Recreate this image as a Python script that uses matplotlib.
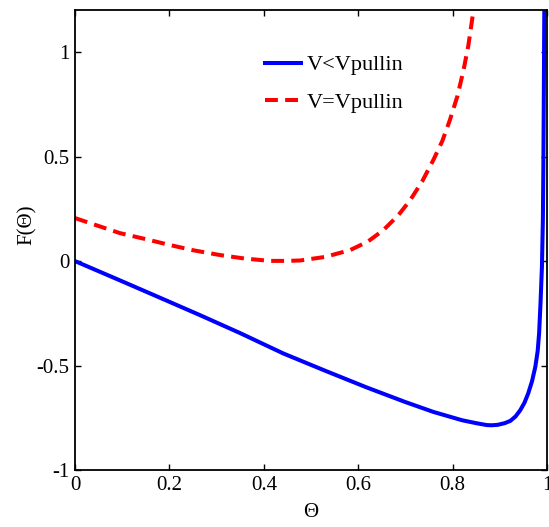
import matplotlib
matplotlib.use('Agg')
import matplotlib.pyplot as plt

plt.rcParams['font.family'] = ['Liberation Serif', 'DejaVu Serif']
plt.rcParams['axes.unicode_minus'] = False

# V < Vpullin (solid blue)
theta_lo = [0.0, 0.1, 0.2, 0.265, 0.35, 0.441, 0.53, 0.618, 0.7, 0.759, 0.82,
            0.85, 0.872, 0.882, 0.895, 0.91, 0.922, 0.933, 0.943, 0.952, 0.96,
            0.968, 0.975, 0.98, 0.983, 0.986, 0.989, 0.991, 0.992, 0.993,
            0.994, 0.996]
f_lo = [0.0, -0.097, -0.195, -0.259, -0.345, -0.442, -0.525, -0.605, -0.675,
        -0.722, -0.762, -0.776, -0.785, -0.786, -0.784, -0.776, -0.765, -0.744,
        -0.714, -0.678, -0.633, -0.575, -0.506, -0.43, -0.346, -0.2, -0.027,
        0.2, 0.452, 0.8, 1.2, 1.6]

# V = Vpullin (dashed red)
theta_eq = [0.0, 0.05, 0.095, 0.15, 0.201, 0.25, 0.307, 0.36, 0.413, 0.45,
            0.477, 0.53, 0.583, 0.62, 0.653, 0.685, 0.71, 0.735, 0.759, 0.778,
            0.794, 0.81, 0.823, 0.833, 0.841, 0.85]
f_eq = [0.206, 0.168, 0.134, 0.105, 0.077, 0.052, 0.029, 0.012, 0.001, 0.001,
        0.003, 0.02, 0.053, 0.093, 0.148, 0.22, 0.292, 0.38, 0.484, 0.575,
        0.675, 0.79, 0.915, 1.03, 1.154, 1.3]

xticks = [0, 0.2, 0.4, 0.6, 0.8, 1]
xtick_labels = ['0', '0.2', '0.4', '0.6', '0.8', '1']
yticks = [-1, -0.5, 0, 0.5, 1]
ytick_labels = ['-1', '-0.5', '0', '0.5', '1']

fig = plt.figure(figsize=(5.49, 5.27), dpi=100)
ax = fig.add_axes([0.1366, 0.1082, 0.86, 0.872])

ax.plot(theta_lo, f_lo, '-', color='#0000ff', lw=2.9, label='V<Vpullin')
ax.plot(theta_eq, f_eq, '--', color='#ff0000', lw=2.9, dashes=(3.2, 1.8),
        label='V=Vpullin')

ax.set_xlim(0, 1)
ax.set_ylim(-1, 1.2)
ax.set_xticks(xticks)
ax.set_xticklabels(xtick_labels)
ax.set_yticks(yticks)
ax.set_yticklabels(ytick_labels)
ax.tick_params(direction='in', top=True, right=True, length=4, width=1,
               labelsize=15, pad=4)
for sp in ax.spines.values():
    sp.set_linewidth(1.3)

ax.set_xlabel('Θ', fontsize=15, labelpad=6)
ax.set_ylabel('F(Θ)', fontsize=15)
ax.yaxis.set_label_coords(-0.08, 0.533)

ax.legend(loc='upper left', bbox_to_anchor=(0.36, 0.947), frameon=False,
          fontsize=16, handlelength=1.6, handletextpad=0.3, labelspacing=0.75)

fig.savefig('out.png', dpi=100)
